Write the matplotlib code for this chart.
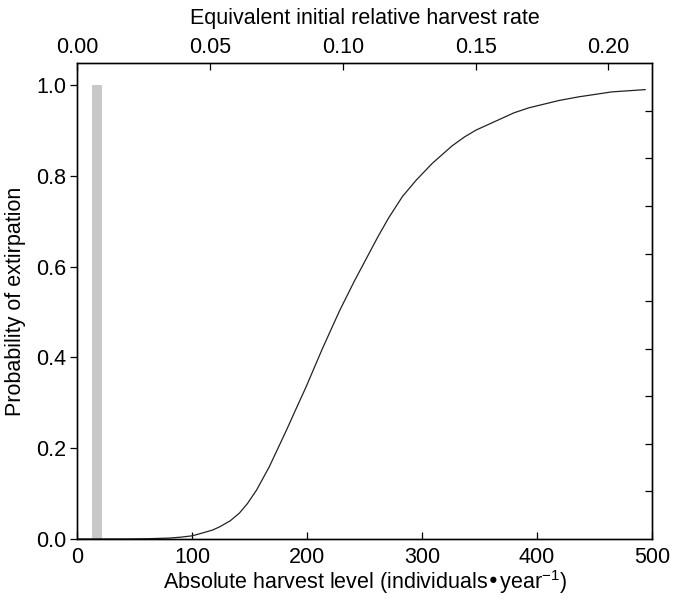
import matplotlib
matplotlib.use('Agg')
import matplotlib.pyplot as plt

plt.rcParams['font.family'] = ['Liberation Sans', 'DejaVu Sans']
plt.rcParams['mathtext.default'] = 'regular'

# absolute harvest level (individuals/year) and probability of extirpation
harvest = [0, 20, 40, 60, 80, 90, 100, 110, 118, 124, 133, 141, 148, 156, 167,
           182, 190, 199, 213, 228, 241, 254, 262, 271, 283, 295, 309, 326,
           337, 347, 367, 380, 393, 419, 436, 465, 494]
p_extirp = [0.0, 0.0, 0.0, 0.0005, 0.002, 0.004, 0.007, 0.014, 0.020, 0.027,
            0.040, 0.057, 0.078, 0.108, 0.159, 0.240, 0.285, 0.335, 0.418,
            0.502, 0.568, 0.630, 0.668, 0.708, 0.755, 0.791, 0.828, 0.866,
            0.886, 0.901, 0.924, 0.939, 0.950, 0.966, 0.974, 0.985, 0.990]

# grey bar (current harvest)
bar_x = [17]
bar_h = [1.0]

# harvest level -> equivalent initial relative harvest rate
rate_scale = 2310.0
top_ticks = [0.0, 0.05, 0.10, 0.15, 0.20]

fs = 15.5

fig = plt.figure(figsize=(6.73, 6.0), dpi=100)
ax = fig.add_axes([0.1149, 0.1017, 0.9688 - 0.1149, 0.8945 - 0.1017])

ax.bar(bar_x, bar_h, width=9, color='#c8c8c8', zorder=1)
ax.plot(harvest, p_extirp, color='#222222', lw=0.9, zorder=2)

ax.set_xlim(0, 500)
ax.set_ylim(0, 1.048)
ax.set_xticks([0, 100, 200, 300, 400, 500])
ax.set_yticks([0.0, 0.2, 0.4, 0.6, 0.8, 1.0])
ax.set_yticklabels(['%.1f' % v for v in [0.0, 0.2, 0.4, 0.6, 0.8, 1.0]])
ax.tick_params(axis='x', direction='in', length=5, labelsize=fs, pad=6, width=0.9)
ax.tick_params(axis='y', direction='out', length=5, labelsize=fs, pad=3, width=0.9)
ax.set_xlabel('Absolute harvest level (individuals\u2022year$^{-1}$)', fontsize=fs, labelpad=0)
ax.set_ylabel('Probability of extirpation', fontsize=fs, labelpad=7)

top = ax.twiny()
top.set_xlim(0, 500 / rate_scale)
top.set_xticks(top_ticks)
top.set_xticklabels(['%.2f' % v for v in top_ticks])
top.tick_params(axis='x', direction='in', length=5, labelsize=fs, pad=4, width=0.9)
top.set_xlabel('Equivalent initial relative harvest rate', fontsize=fs, labelpad=9)

right = ax.twinx()
right.set_ylim(0, 10)
right.set_yticks(range(1, 10))
right.tick_params(axis='y', direction='in', length=5, labelright=False, width=0.9)

for a in (ax, top, right):
    for s in a.spines.values():
        s.set_linewidth(0.9)

plt.savefig('out.png', dpi=100)
